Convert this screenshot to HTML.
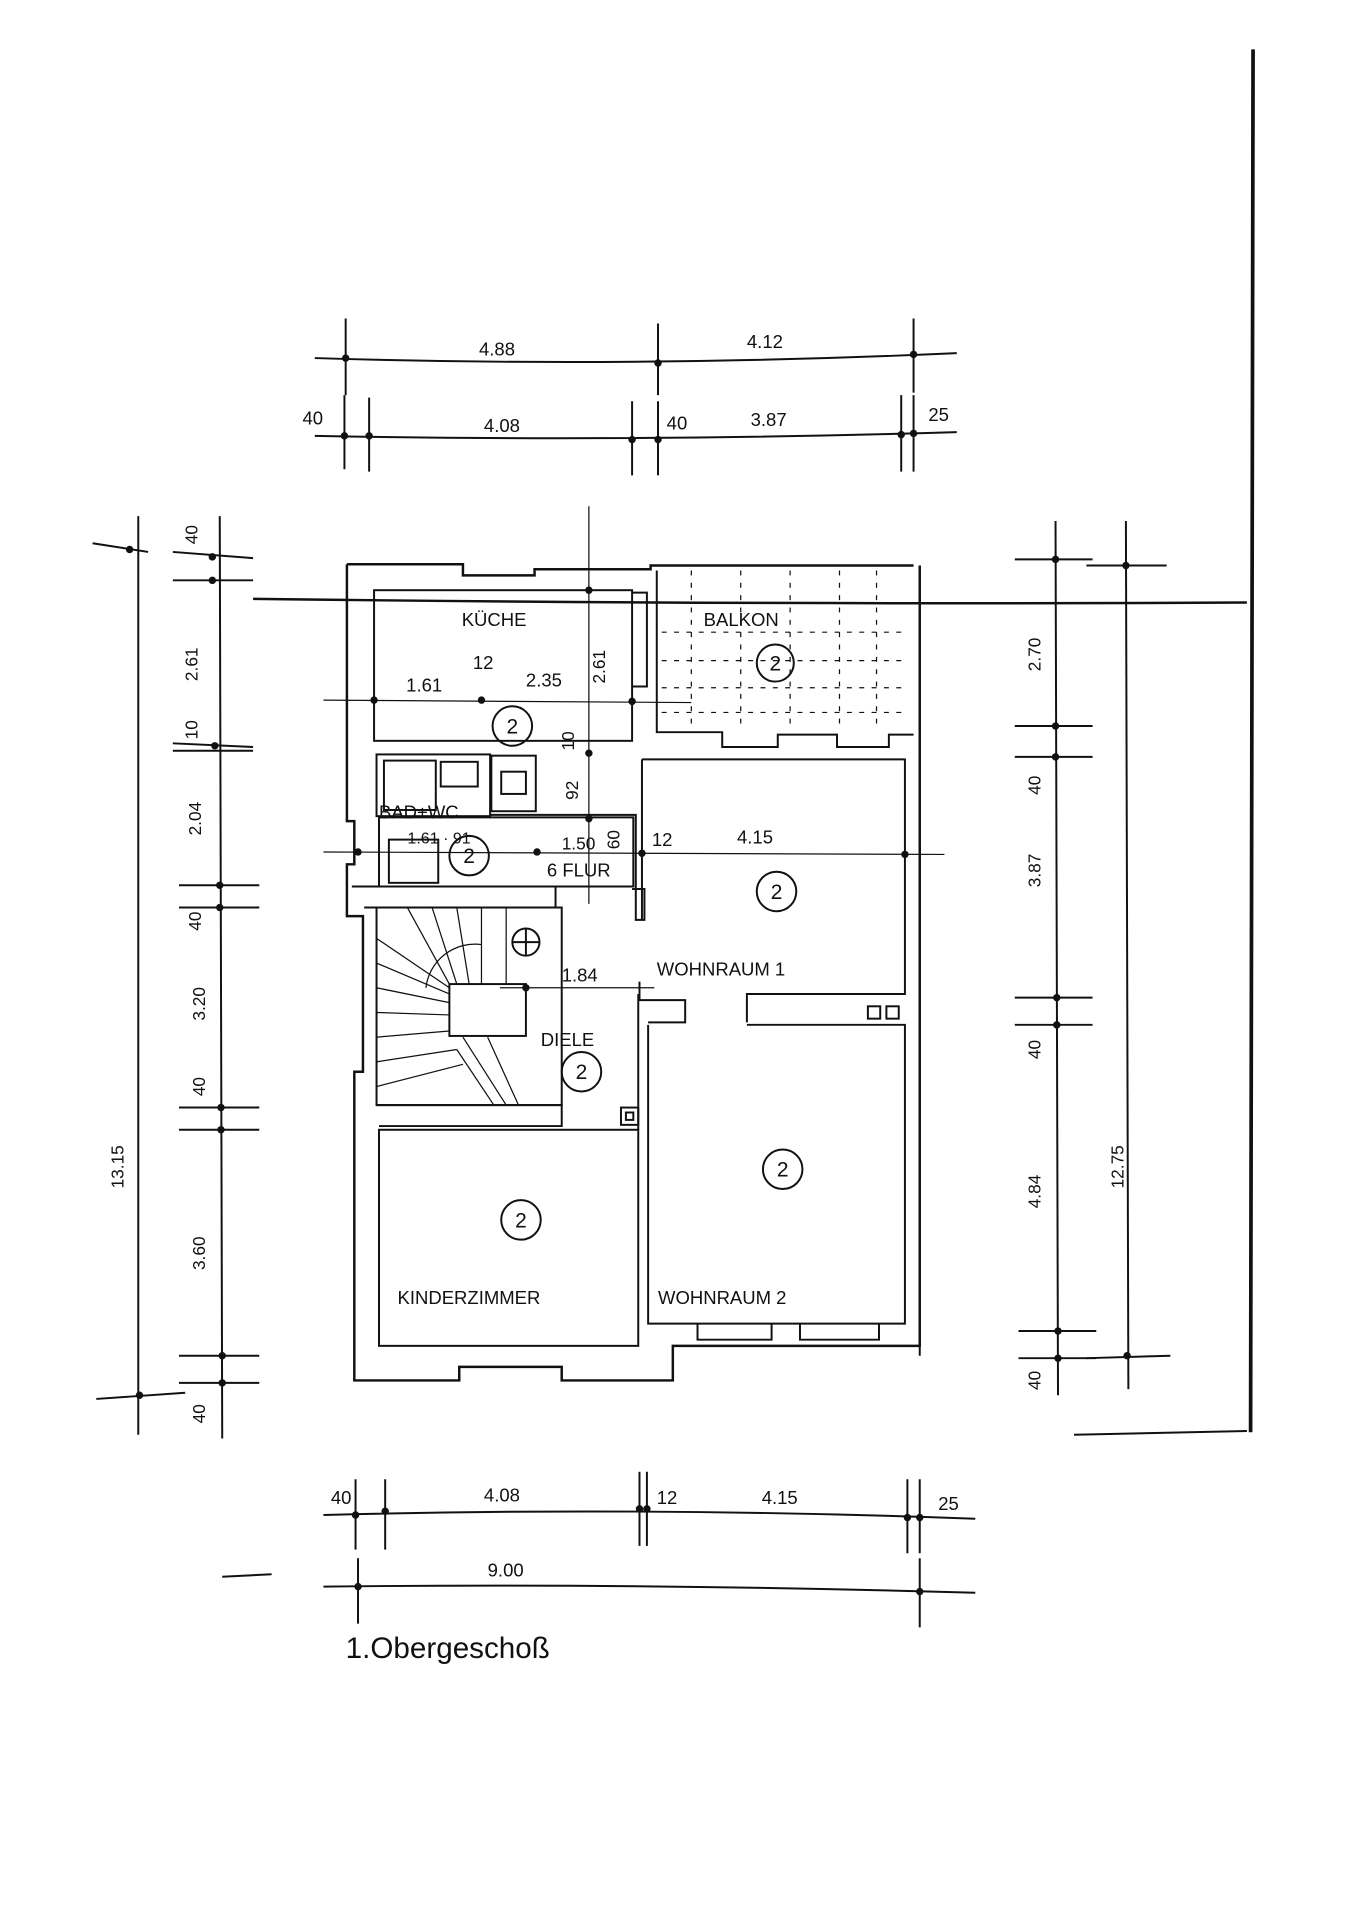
<!DOCTYPE html>
<html><head><meta charset="utf-8"><style>
html,body{margin:0;padding:0;background:#fff;}
svg{display:block;}
text{font-family:"Liberation Sans",sans-serif;fill:#111;}
</style></head><body>
<svg width="1358" height="1920" viewBox="0 0 1100 1555" preserveAspectRatio="none" xmlns="http://www.w3.org/2000/svg">
<g stroke="#111" stroke-width="1.6" fill="none">
<!-- page edge lines -->
<line x1="1015" y1="40" x2="1013" y2="1160" stroke-width="3"/>
<line x1="870" y1="1162" x2="1010" y2="1159"/>
<path d="M205 485 Q600 490 1010 488" stroke-width="2"/>
<line x1="180" y1="1277" x2="220" y2="1275"/>
<!-- top dims -->
<path d="M255 290 Q510 298 775 286"/>
<line x1="280" y1="258" x2="280" y2="320"/><line x1="533" y1="262" x2="533" y2="320"/><line x1="740" y1="258" x2="740" y2="318"/>
<path d="M255 353 Q510 358 775 350"/>
<line x1="279" y1="320" x2="279" y2="380"/><line x1="299" y1="322" x2="299" y2="382"/><line x1="512" y1="325" x2="512" y2="385"/><line x1="533" y1="325" x2="533" y2="385"/><line x1="730" y1="320" x2="730" y2="382"/><line x1="740" y1="320" x2="740" y2="382"/>
<!-- left dims -->
<line x1="112" y1="418" x2="112" y2="1162"/>
<line x1="75" y1="440" x2="120" y2="447"/><line x1="78" y1="1133" x2="150" y2="1128"/>
<line x1="178" y1="418" x2="180" y2="1165"/>
<g>
<line x1="140" y1="447" x2="205" y2="452"/><line x1="140" y1="470" x2="205" y2="470"/>
<line x1="140" y1="602" x2="205" y2="605"/><line x1="140" y1="608" x2="205" y2="608"/>
<line x1="145" y1="717" x2="210" y2="717"/><line x1="145" y1="735" x2="210" y2="735"/>
<line x1="145" y1="897" x2="210" y2="897"/><line x1="145" y1="915" x2="210" y2="915"/>
<line x1="145" y1="1098" x2="210" y2="1098"/><line x1="145" y1="1120" x2="210" y2="1120"/>
</g>
<!-- right dims -->
<line x1="855" y1="422" x2="857" y2="1130"/>
<line x1="912" y1="422" x2="914" y2="1125"/>
<line x1="822" y1="453" x2="885" y2="453"/><line x1="880" y1="458" x2="945" y2="458"/>
<line x1="822" y1="588" x2="885" y2="588"/><line x1="822" y1="613" x2="885" y2="613"/>
<line x1="822" y1="808" x2="885" y2="808"/><line x1="822" y1="830" x2="885" y2="830"/>
<line x1="825" y1="1078" x2="888" y2="1078"/><line x1="825" y1="1100" x2="888" y2="1100"/><line x1="880" y1="1100" x2="948" y2="1098"/>
<!-- bottom dims -->
<path d="M262 1227 Q520 1220 790 1230"/>
<line x1="288" y1="1198" x2="288" y2="1255"/><line x1="312" y1="1198" x2="312" y2="1255"/><line x1="518" y1="1192" x2="518" y2="1252"/><line x1="524" y1="1192" x2="524" y2="1252"/><line x1="735" y1="1198" x2="735" y2="1258"/><line x1="745" y1="1198" x2="745" y2="1258"/>
<path d="M262 1285 Q520 1282 790 1290"/>
<line x1="290" y1="1262" x2="290" y2="1315"/><line x1="745" y1="1262" x2="745" y2="1318"/>
<!-- internal dims -->
<line x1="477" y1="410" x2="477" y2="732" stroke-width="1"/>
<line x1="262" y1="567" x2="560" y2="569" stroke-width="1"/>
<line x1="262" y1="690" x2="765" y2="692" stroke-width="1"/>
<line x1="405" y1="800" x2="530" y2="800" stroke-width="1"/>
<!-- building outer -->
<path d="M281 457 H375 V466 H433 V461 H527 V458 H740" stroke-width="2"/>
<path d="M281 457 V665 H287 V700 H281 V742 H294 V868 H287 V1118 H372 V1107 H455 V1118 H545 V1090 H745 V458" stroke-width="2"/>
<line x1="745" y1="458" x2="745" y2="1098"/>
<!-- inner walls: kitchen -->
<rect x="303" y="478" width="209" height="122"/>
<path d="M512 480 H524 V556 H512"/>
<!-- balcony -->
<path d="M532 462 V593 H585 V605 H630 V595 H678 V605 H720 V595 H740"/>
<g stroke-dasharray="4 6" stroke-width="1">
<line x1="536" y1="512" x2="735" y2="512"/><line x1="536" y1="535" x2="735" y2="535"/><line x1="536" y1="557" x2="735" y2="557"/><line x1="536" y1="577" x2="735" y2="577"/>
<line x1="560" y1="462" x2="560" y2="592"/><line x1="600" y1="462" x2="600" y2="592"/><line x1="640" y1="462" x2="640" y2="592"/><line x1="680" y1="462" x2="680" y2="592"/><line x1="710" y1="462" x2="710" y2="592"/>
</g>
<!-- bad -->
<rect x="305" y="611" width="92" height="50"/>
<rect x="311" y="616" width="42" height="40"/>
<rect x="357" y="617" width="30" height="20"/>
<rect x="398" y="612" width="36" height="45"/><rect x="406" y="625" width="20" height="18"/>
<path d="M397 660 H515 V745 H522 V720 H512"/>
<path d="M307 662 H513 V718 H307 Z"/>
<rect x="315" y="680" width="40" height="35"/>
<path d="M285 718 H450 V735 H295"/>
<!-- wohnraum1 -->
<path d="M520 615 H733 V805 H605 V828"/>
<path d="M520 615 V745"/>
<path d="M518 795 V810 H555 V828 H525"/>
<rect x="703" y="815" width="10" height="10"/><rect x="718" y="815" width="10" height="10"/>
<!-- wohnraum2 -->
<path d="M525 830 V1072 H733 V830 H605"/>
<path d="M565 1072 V1085 H625 V1072 M648 1072 V1085 H712 V1072"/>
<!-- stair -->
<rect x="305" y="735" width="150" height="160"/>
<rect x="364" y="797" width="62" height="42"/>
<g stroke-width="1">
<path d="M305 760 L364 800 M305 780 L364 805 M305 800 L364 812 M305 820 L364 822 M305 840 L364 835 M305 860 L370 850 M305 880 L375 862"/>
<path d="M330 735 L364 797 M350 735 L370 797 M370 735 L380 797 M390 735 V797 M410 735 V797"/>
<path d="M345 800 A40 40 0 0 1 390 765"/>
<path d="M375 840 L410 895 M395 840 L420 895 M370 850 L400 895"/>
</g>
<circle cx="426" cy="763" r="11"/><line x1="415" y1="763" x2="437" y2="763"/><line x1="426" y1="752" x2="426" y2="774"/>
<!-- diele/kinder -->
<path d="M305 895 H455 V912 H307"/>
<rect x="307" y="915" width="210" height="175"/>
<path d="M517 915 V805"/>
<rect x="503" y="897" width="14" height="14"/><rect x="507" y="901" width="6" height="6"/>
<!-- room circles -->
<circle cx="415" cy="588" r="16"/><circle cx="628" cy="537" r="15"/><circle cx="380" cy="693" r="16"/>
<circle cx="629" cy="722" r="16"/><circle cx="471" cy="868" r="16"/><circle cx="634" cy="947" r="16"/><circle cx="422" cy="988" r="16"/>
</g>
<!-- dots -->
<g fill="#111">
<circle cx="280" cy="290" r="3"/><circle cx="533" cy="294" r="3"/><circle cx="740" cy="287" r="3"/>
<circle cx="279" cy="353" r="3"/><circle cx="299" cy="353" r="3"/><circle cx="512" cy="356" r="3"/><circle cx="533" cy="356" r="3"/><circle cx="730" cy="352" r="3"/><circle cx="740" cy="351" r="3"/>
<circle cx="105" cy="445" r="3"/><circle cx="172" cy="451" r="3"/><circle cx="172" cy="470" r="3"/><circle cx="174" cy="604" r="3"/><circle cx="178" cy="717" r="3"/><circle cx="178" cy="735" r="3"/><circle cx="179" cy="897" r="3"/><circle cx="179" cy="915" r="3"/><circle cx="180" cy="1098" r="3"/><circle cx="180" cy="1120" r="3"/><circle cx="113" cy="1130" r="3"/>
<circle cx="855" cy="453" r="3"/><circle cx="912" cy="458" r="3"/><circle cx="855" cy="588" r="3"/><circle cx="855" cy="613" r="3"/><circle cx="856" cy="808" r="3"/><circle cx="856" cy="830" r="3"/><circle cx="857" cy="1078" r="3"/><circle cx="857" cy="1100" r="3"/><circle cx="913" cy="1098" r="3"/>
<circle cx="288" cy="1227" r="3"/><circle cx="312" cy="1224" r="3"/><circle cx="518" cy="1222" r="3"/><circle cx="524" cy="1222" r="3"/><circle cx="735" cy="1229" r="3"/><circle cx="745" cy="1229" r="3"/><circle cx="290" cy="1285" r="3"/><circle cx="745" cy="1289" r="3"/>
<circle cx="303" cy="567" r="3"/><circle cx="390" cy="567" r="3"/><circle cx="512" cy="568" r="3"/><circle cx="477" cy="478" r="3"/><circle cx="477" cy="610" r="3"/><circle cx="477" cy="663" r="3"/><circle cx="290" cy="690" r="3"/><circle cx="435" cy="690" r="3"/><circle cx="520" cy="691" r="3"/><circle cx="733" cy="692" r="3"/><circle cx="426" cy="800" r="3"/>
</g>
<!-- text -->
<g font-size="15">
<text x="388" y="288">4.88</text><text x="605" y="282">4.12</text>
<text x="245" y="344">40</text><text x="392" y="350">4.08</text><text x="540" y="348">40</text><text x="608" y="345">3.87</text><text x="752" y="341">25</text>
<text x="268" y="1218">40</text><text x="392" y="1216">4.08</text><text x="532" y="1218">12</text><text x="617" y="1218">4.15</text><text x="760" y="1223">25</text>
<text x="395" y="1277">9.00</text>
<text x="374" y="507">KÜCHE</text><text x="570" y="507">BALKON</text>
<text x="329" y="560">1.61</text><text x="383" y="542">12</text><text x="426" y="556">2.35</text>
<text x="307" y="663">BAD+WC</text><text x="330" y="683" font-size="13">1.61 · 91</text><text x="455" y="688" font-size="14">1.50</text><text x="528" y="685">12</text><text x="597" y="683">4.15</text>
<text x="443" y="710">6 FLUR</text>
<text x="532" y="790">WOHNRAUM 1</text><text x="455" y="795">1.84</text><text x="438" y="847">DIELE</text>
<text x="322" y="1056">KINDERZIMMER</text><text x="533" y="1056">WOHNRAUM 2</text>
</g>
<g font-size="17" text-anchor="middle">
<text x="415" y="594">2</text><text x="628" y="543">2</text><text x="380" y="699">2</text><text x="629" y="728">2</text><text x="471" y="874">2</text><text x="634" y="953">2</text><text x="422" y="994">2</text>
</g>
<g font-size="14" text-anchor="middle">
<text transform="translate(160,433) rotate(-90)">40</text>
<text transform="translate(160,538) rotate(-90)">2.61</text>
<text transform="translate(160,591) rotate(-90)">10</text>
<text transform="translate(163,663) rotate(-90)">2.04</text>
<text transform="translate(163,746) rotate(-90)">40</text>
<text transform="translate(166,813) rotate(-90)">3.20</text>
<text transform="translate(166,880) rotate(-90)">40</text>
<text transform="translate(166,1015) rotate(-90)">3.60</text>
<text transform="translate(166,1145) rotate(-90)">40</text>
<text transform="translate(100,945) rotate(-90)">13.15</text>
<text transform="translate(843,530) rotate(-90)">2.70</text>
<text transform="translate(843,636) rotate(-90)">40</text>
<text transform="translate(843,705) rotate(-90)">3.87</text>
<text transform="translate(843,850) rotate(-90)">40</text>
<text transform="translate(843,965) rotate(-90)">4.84</text>
<text transform="translate(843,1118) rotate(-90)">40</text>
<text transform="translate(910,945) rotate(-90)">12.75</text>
<text transform="translate(490,540) rotate(-90)">2.61</text>
<text transform="translate(465,600) rotate(-90)">10</text>
<text transform="translate(468,640) rotate(-90)">92</text>
<text transform="translate(502,680) rotate(-90)">60</text>
</g>
<text x="280" y="1343" font-size="24">1.Obergeschoß</text>
</svg>
</body></html>
